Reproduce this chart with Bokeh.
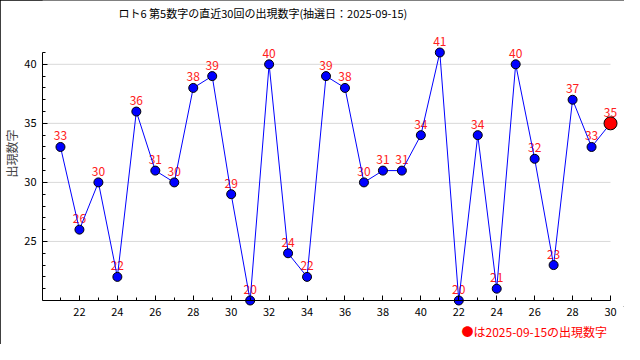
from bokeh.plotting import figure
from bokeh.models import FixedTicker, Label, Range1d, Title, LinearAxis
from bokeh.embed import file_html
from bokeh.resources import INLINE
from bokeh.core.properties import value

FONT = "Noto Sans CJK JP"

title_text = "ロト6 第5数字の直近30回の出現数字(抽選日：2025-09-15)"
legend_text = "●は2025-09-15の出現数字"
y_title = "出現数字"

draw_labels = ["21", "22", "23", "24", "25", "26", "27", "28", "29", "30",
               "31", "32", "33", "34", "35", "36", "37", "38", "39", "40",
               "21", "22", "23", "24", "25", "26", "27", "28", "29", "30"]
numbers = [33, 26, 30, 22, 36, 31, 30, 38, 39, 29,
           20, 40, 24, 22, 39, 38, 30, 31, 31, 34,
           41, 20, 34, 21, 40, 32, 23, 37, 33, 35]
y_major = [25, 30, 35, 40]
y_min, y_max = 20, 41

xs = list(range(1, len(numbers) + 1))
n = len(numbers)
x_major = list(range(2, n + 1, 2))
x_overrides = {i: draw_labels[i - 1] for i in x_major}

# layout geometry (pixels)
W, H = 624, 344
LEFT, BOTTOM = 41, 38
FRAME_W, FRAME_H = W - LEFT, H - BOTTOM
x_unit = 19.0
y_unit = 248 / 21.0
x0 = 1 - 18 / x_unit
x1 = x0 + FRAME_W / x_unit
y0 = y_min - 6 / y_unit
y1 = y0 + FRAME_H / y_unit

p = figure(width=W, height=H, output_backend="svg", toolbar_location=None,
           x_range=Range1d(x0, x1), y_range=Range1d(y0, y1),
           min_border_left=LEFT, min_border_right=0, min_border_top=0, min_border_bottom=BOTTOM)
p.styles = {"outline": "1px solid black", "outline-offset": "-1px"}
p.outline_line_color = None
p.background_fill_color = "white"
p.border_fill_color = "white"
p.xgrid.visible = False
p.ygrid.visible = False

for ax in (p.xaxis[0], p.yaxis[0]):
    ax.axis_line_color = "black"
    ax.major_tick_in = 5
    ax.major_tick_out = 0
    ax.minor_tick_in = 3
    ax.minor_tick_out = 0
    ax.major_tick_line_color = "black"
    ax.minor_tick_line_color = "black"
    ax.major_label_text_font = FONT
    ax.major_label_text_font_size = "11px"
    ax.major_label_text_color = "black"

# x axis line and ticks sit at y = 20
xa = p.xaxis[0]
xa.fixed_location = y_min
xa.bounds = (x0, n)
xa.ticker = FixedTicker(ticks=x_major, minor_ticks=xs)
xa.major_label_text_color = None

# x tick labels in the panel below
xl = LinearAxis(ticker=FixedTicker(ticks=x_major), major_label_overrides=x_overrides,
                axis_line_color=None, major_tick_line_color=None, minor_tick_line_color=None,
                major_tick_in=0, major_tick_out=0, minor_tick_in=0, minor_tick_out=0,
                major_label_standoff=1, major_label_text_font=FONT,
                major_label_text_font_size="11px", major_label_text_color="black")
p.add_layout(xl, "below")

p.yaxis.bounds = (y_min, y_max)
p.yaxis.ticker = FixedTicker(ticks=y_major, minor_ticks=list(range(y_min, y_max + 1)))
p.yaxis.major_label_standoff = 6
p.yaxis.axis_label = y_title
p.yaxis.axis_label_text_font = FONT
p.yaxis.axis_label_text_font_size = "12px"
p.yaxis.axis_label_text_font_style = "normal"
p.yaxis.axis_label_standoff = 1

# horizontal grid lines only across the data area
p.segment(x0=[x0] * len(y_major), y0=y_major, x1=[n] * len(y_major), y1=y_major,
          line_color="#d9d9d9", line_width=1)

# value labels (under the line)
p.text(xs, numbers, text=[str(v) for v in numbers], text_color="#ff2020",
       text_align="center", text_baseline="middle", y_offset=-11,
       text_font=value(FONT), text_font_size="12px")

p.line(xs, numbers, line_color="#0000ff", line_width=1)
p.scatter(xs[:-1], numbers[:-1], size=9, fill_color="#0000ff", line_color="black", line_width=1)
p.scatter(xs[-1:], numbers[-1:], size=13, fill_color="#ff0000", line_color="black", line_width=1)

title = Label(x=76, y=FRAME_H - 12, x_units="screen", y_units="screen", text=title_text,
              text_align="left", text_baseline="middle", text_font=FONT,
              text_font_size="11px", text_color="black")
p.add_layout(title)

legend = Title(text=legend_text, align="left", offset=419, standoff=5,
               text_font=FONT, text_font_size="12px", text_color="#ff0000",
               text_font_style="normal")
p.add_layout(legend, "below")

open("out.html", "w").write(file_html(p, INLINE))
